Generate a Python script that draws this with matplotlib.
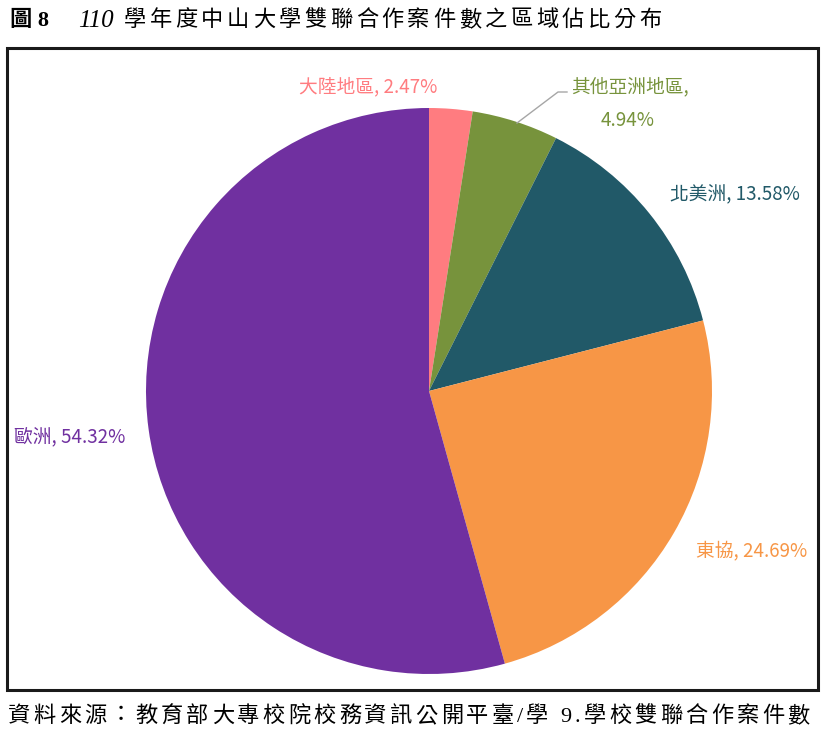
import matplotlib
matplotlib.use("Agg")
import matplotlib.pyplot as plt
from matplotlib.patches import Rectangle

plt.rcParams['font.family'] = ['Noto Sans CJK TC', 'DejaVu Sans']

# 資料
regions = ['大陸地區', '其他亞洲地區', '北美洲', '東協', '歐洲']
percents = [2.47, 4.94, 13.58, 24.69, 54.32]
colors = ['#FF7C80', '#77933C', '#215968', '#F79646', '#7030A0']

W, H = 826, 738
fig = plt.figure(figsize=(W / 100, H / 100), dpi=100)
renderer = fig.canvas.get_renderer()


def fx(px):
    return px / W


def fy(py):
    return 1 - py / H


def spaced_text(x, y, s, gap, **kw):
    # 逐字排列, 加上字距
    for ch in s:
        t = fig.text(fx(x), fy(y), ch, ha='left', va='center', **kw)
        w = t.get_window_extent(renderer).width
        if ch == ' ':
            w = kw.get('fontsize', 12) * 0.35
        x += w + gap
    return x


# 外框
fig.patches.append(Rectangle((fx(7), fy(690)), fx(818) - fx(7), fy(48) - fy(690),
                             transform=fig.transFigure, fill=False,
                             edgecolor='#1a1a1a', linewidth=2.2))

# 圓餅圖 (中心 429,391 半徑 283 px)
cx, cy, r = 429, 391, 283
ax = fig.add_axes([fx(cx - r), fy(cy + r), 2 * r / W, 2 * r / H])
wedges, _ = ax.pie(percents, colors=colors, startangle=90, counterclock=False,
                   wedgeprops=dict(linewidth=0))
ax.set_xlim(-1, 1)
ax.set_ylim(-1, 1)
ax.set_aspect('auto')
ax.axis('off')

# 標籤位置 (pixel)
label_pos = [(368, 87), (630, 87), (735, 194), (752, 551), (70, 437)]
fs = 13.5
for i, (name, p, c) in enumerate(zip(regions, percents, colors)):
    x, y = label_pos[i]
    if name == '其他亞洲地區':
        fig.text(fx(x), fy(y), f'{name},', color=c, fontsize=fs, ha='center', va='center')
        fig.text(fx(628), fy(120), f'{p:.2f}%', color=c, fontsize=fs, ha='center', va='center')
    else:
        fig.text(fx(x), fy(y), f'{name}, {p:.2f}%', color=c, fontsize=fs,
                 ha='center', va='center')

# 引導線
fig.add_artist(plt.Line2D([fx(517), fx(558), fx(567)], [fy(123), fy(92), fy(92)],
                          color='#A6A6A6', linewidth=1))

# 標題
serif = ['Liberation Serif', 'Noto Sans CJK TC']
fig.text(fx(10), fy(21), '圖 8', fontsize=16, fontweight='bold', ha='left', va='center',
         family=serif)
fig.text(fx(78), fy(21), '110', fontsize=18, style='italic', ha='left', va='center',
         family=serif)
spaced_text(124, 21, '學年度中山大學雙聯合作案件數之區域佔比分布', 3.5,
            fontsize=16, family=serif)

# 資料來源
spaced_text(8, 717, '資料來源：教育部大專校院校務資訊公開平臺/學 9.學校雙聯合作案件數', 3.2,
            fontsize=16, family=serif)

fig.savefig('out.png', dpi=100)
